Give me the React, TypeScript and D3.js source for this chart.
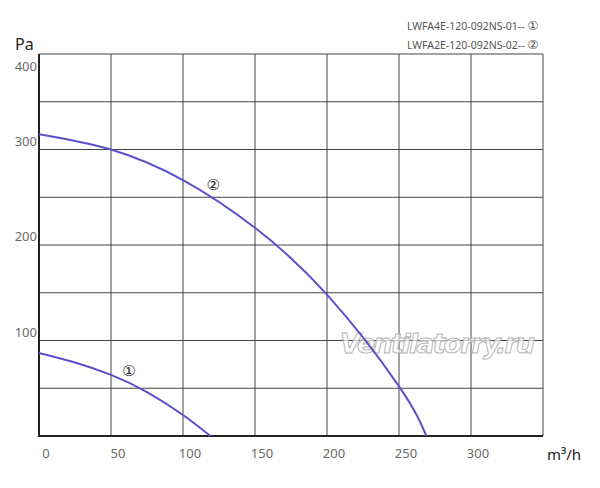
import React, { useEffect, useRef } from "react";
import * as d3 from "d3";

// airflow (m³/h) vs static pressure (Pa)
const flow1 = [0, 25, 50, 75, 100, 119];
const pressure1 = [87, 77, 64, 46, 22, 0];

const flow2 = [0, 50, 100, 150, 200, 250, 269];
const pressure2 = [316, 300, 268, 218, 148, 52, 0];

const xTicks = [0, 50, 100, 150, 200, 250, 300];
const yTicks = [100, 200, 300, 400];
const legendNames = ["LWFA4E-120-092NS-01-- ", "LWFA2E-120-092NS-02-- "];
const legendMarks = ["①", "②"];
const curveMarks = [
  { label: "①", flow: 62.5, pressure: 68 },
  { label: "②", flow: 121, pressure: 263 },
];

const App: React.FC = () => {
  const svgRef = useRef<SVGSVGElement | null>(null);

  useEffect(() => {
    const width = 600;
    const height = 488;
    const left = 39, right = 543, top = 54, bottom = 436;

    const svg = d3.select(svgRef.current);
    svg.selectAll("*").remove();
    svg.attr("width", width).attr("height", height);

    const x = d3.scaleLinear().domain([0, 350]).range([left, right]);
    const y = d3.scaleLinear().domain([0, 400]).range([bottom, top]);

    const font = "'Noto Sans', 'DejaVu Sans', sans-serif";

    // grid
    const g = svg.append("g");
    g.selectAll("line.v")
      .data(d3.range(0, 351, 50))
      .join("line")
      .attr("x1", d => x(d)).attr("x2", d => x(d))
      .attr("y1", top).attr("y2", bottom)
      .attr("stroke", "#444").attr("stroke-width", 1);
    g.selectAll("line.h")
      .data(d3.range(0, 401, 50))
      .join("line")
      .attr("x1", left).attr("x2", right)
      .attr("y1", d => y(d)).attr("y2", d => y(d))
      .attr("stroke", "#444").attr("stroke-width", 1);

    // axes (thicker)
    svg.append("line")
      .attr("x1", left).attr("x2", left).attr("y1", top).attr("y2", bottom + 1)
      .attr("stroke", "#222").attr("stroke-width", 2);
    svg.append("line")
      .attr("x1", left).attr("x2", right).attr("y1", bottom).attr("y2", bottom)
      .attr("stroke", "#222").attr("stroke-width", 2);

    // tick labels
    svg.selectAll("text.xt")
      .data(xTicks)
      .join("text")
      .attr("x", d => x(d) + 7)
      .attr("y", 458)
      .attr("text-anchor", "middle")
      .style("font-family", font).style("font-size", "13px")
      .attr("fill", "#6a6a6a")
      .text(d => d);

    svg.selectAll("text.yt")
      .data(yTicks)
      .join("text")
      .attr("x", 37)
      .attr("y", d => (d === 400 ? y(d) + 17 : y(d) - 4))
      .attr("text-anchor", "end")
      .style("font-family", font).style("font-size", "13px")
      .attr("fill", "#6a6a6a")
      .text(d => d);

    // axis titles
    svg.append("text")
      .attr("x", 15).attr("y", 50)
      .style("font-family", font).style("font-size", "16px")
      .attr("fill", "#222")
      .text("Pa");
    svg.append("text")
      .attr("x", 547).attr("y", 460)
      .style("font-family", font).style("font-size", "15px")
      .attr("fill", "#222")
      .text("m³/h");

    // watermark
    svg.append("text")
      .attr("x", 340).attr("y", 353)
      .style("font-family", "'DejaVu Sans', sans-serif")
      .style("font-size", "27px")
      .style("font-style", "italic")
      .style("font-weight", "bold")
      .attr("fill", "#fff").attr("fill-opacity", 0.7)
      .attr("stroke", "#b5b5b5").attr("stroke-width", 1)
      .attr("textLength", 195)
      .text("Ventilatorry.ru");

    // curves
    const line = d3.line<[number, number]>()
      .x(d => x(d[0]))
      .y(d => y(d[1]))
      .curve(d3.curveNatural);

    const series: [number, number][][] = [
      flow1.map((f, i) => [f, pressure1[i]]),
      flow2.map((f, i) => [f, pressure2[i]]),
    ];
    series.forEach(s => {
      svg.append("path")
        .datum(s)
        .attr("d", line)
        .attr("fill", "none")
        .attr("stroke", "#5b50cc")
        .attr("stroke-width", 2);
    });

    curveMarks.forEach(m => {
      svg.append("text")
        .attr("x", x(m.flow)).attr("y", y(m.pressure) + 5)
        .attr("text-anchor", "middle")
        .style("font-family", "'DejaVu Sans', sans-serif")
        .style("font-size", "15px")
        .attr("fill", "#222")
        .text(m.label);
    });

    // legend
    legendNames.forEach((name, i) => {
      const t = svg.append("text")
        .attr("x", 407).attr("y", 30 + i * 19)
        .style("font-family", font).style("font-size", "10.5px")
        .attr("fill", "#555");
      t.append("tspan").text(name);
      t.append("tspan")
        .style("font-family", "'DejaVu Sans', sans-serif")
        .style("font-size", "12.5px")
        .text(legendMarks[i]);
    });
  }, []);

  return <svg ref={svgRef} style={{ position: "absolute", left: 0, top: 0 }}></svg>;
};

export default App;
